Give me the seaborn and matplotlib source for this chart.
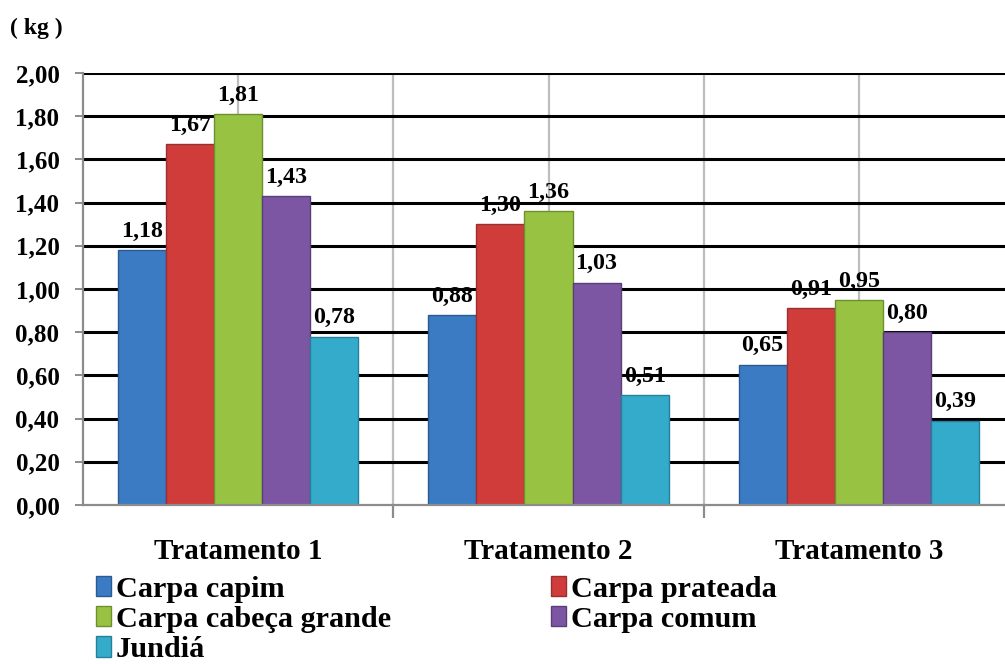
import matplotlib
matplotlib.use("Agg")
import matplotlib.pyplot as plt
import seaborn as sns
import pandas as pd
from matplotlib.ticker import FixedLocator, FuncFormatter
from matplotlib.patches import Patch

# ---- data ----
tratamentos = ["Tratamento 1", "Tratamento 2", "Tratamento 3"]
especies = ["Carpa capim", "Carpa prateada", "Carpa cabeça grande", "Carpa comum", "Jundiá"]
carpa_capim = [1.18, 0.88, 0.65]
carpa_prateada = [1.67, 1.30, 0.91]
carpa_cabeca_grande = [1.81, 1.36, 0.95]
carpa_comum = [1.43, 1.03, 0.80]
jundia = [0.78, 0.51, 0.39]
y_ticks = [0.0, 0.2, 0.4, 0.6, 0.8, 1.0, 1.2, 1.4, 1.6, 1.8, 2.0]
unit_label = "( kg )"

series = [carpa_capim, carpa_prateada, carpa_cabeca_grande, carpa_comum, jundia]
colors = ["#3b7bc4", "#cf3c3a", "#98c342", "#7c56a3", "#35abcb"]
edges = ["#2a5a92", "#973030", "#6d8f2e", "#5a3e7a", "#26809a"]

rows = []
for sp, vals in zip(especies, series):
    for t, v in zip(tratamentos, vals):
        rows.append({"Tratamento": t, "Espécie": sp, "valor": v})
df = pd.DataFrame(rows)

sns.set_theme(style="white")
plt.rcParams["font.family"] = ["Liberation Serif", "DejaVu Serif"]
plt.rcParams["font.weight"] = "bold"
plt.rcParams["text.color"] = "black"
plt.rcParams["xtick.labelcolor"] = "black"
plt.rcParams["ytick.labelcolor"] = "black"

fig = plt.figure(figsize=(10.05, 6.64), dpi=100)
W, H = 1005, 664
left_px, right_px, top_px, bot_px = 83, 1014, 73, 505
ax = fig.add_axes([left_px / W, 1 - bot_px / H, (right_px - left_px) / W, (bot_px - top_px) / H])

sns.barplot(data=df, x="Tratamento", y="valor", hue="Espécie", hue_order=especies,
            order=tratamentos, palette=colors, width=0.775, ax=ax, saturation=1,
            errorbar=None, legend=False, zorder=3)

for cont, ec in zip(ax.containers, edges):
    for p in cont:
        p.set_edgecolor(ec)
        p.set_linewidth(1.0)

fmt = lambda v: f"{v:.2f}".replace(".", ",")
for cont, vals in zip(ax.containers, series):
    ax.bar_label(cont, labels=[fmt(v) for v in vals], padding=6,
                 fontsize=17.3, fontweight="bold", color="black", zorder=5)

ax.set_xlim(-0.5, 2.5)
ax.set_ylim(0, 2.0)
ax.yaxis.set_major_locator(FixedLocator(y_ticks))
ax.yaxis.set_major_formatter(FuncFormatter(lambda v, p: fmt(v)))

# horizontal black gridlines
for yv in y_ticks[1:]:
    ax.axhline(yv, color="black", lw=2.2, zorder=1)
# vertical grey gridlines at centers and boundaries
for xv in [0, 0.5, 1, 1.5, 2]:
    ax.axvline(xv, color="#bdbdbd", lw=1.6, zorder=0.5)

ax.set_xlabel("")
ax.set_ylabel("")
for s in ["top", "right"]:
    ax.spines[s].set_visible(False)
for s in ["left", "bottom"]:
    ax.spines[s].set_color("#8c8c8c")
    ax.spines[s].set_linewidth(1.6)
    ax.spines[s].set_zorder(4)

ax.tick_params(axis="y", length=6, width=1.4, color="#8c8c8c", labelsize=18, pad=11,
               left=True, labelcolor="black")
ax.tick_params(axis="x", which="major", length=0, labelsize=21, pad=24, bottom=True,
               labelcolor="black")
ax.set_xticks([0.5, 1.5], minor=True)
ax.tick_params(axis="x", which="minor", length=9, width=1.6, color="#8c8c8c", bottom=True)
for lab in ax.get_xticklabels() + ax.get_yticklabels():
    lab.set_fontweight("bold")

fig.text(10 / W, 1 - 28 / H, unit_label, fontsize=17, fontweight="bold", va="center", ha="left")

handles = [Patch(facecolor=c, edgecolor=e, linewidth=1) for c, e in zip(colors, edges)]
order = [0, 2, 4, 1, 3]
leg = fig.legend([handles[i] for i in order], [especies[i] for i in order],
                 ncol=2, loc="upper left", bbox_to_anchor=(96 / W, 1 - 576 / H),
                 frameon=False, fontsize=21.8, handlelength=0.5, handleheight=0.65,
                 handletextpad=0.15, labelspacing=0.1, columnspacing=5.3,
                 borderaxespad=0, borderpad=0)
for t in leg.get_texts():
    t.set_fontweight("bold")
    t.set_color("black")

fig.savefig("out.png", dpi=100)
